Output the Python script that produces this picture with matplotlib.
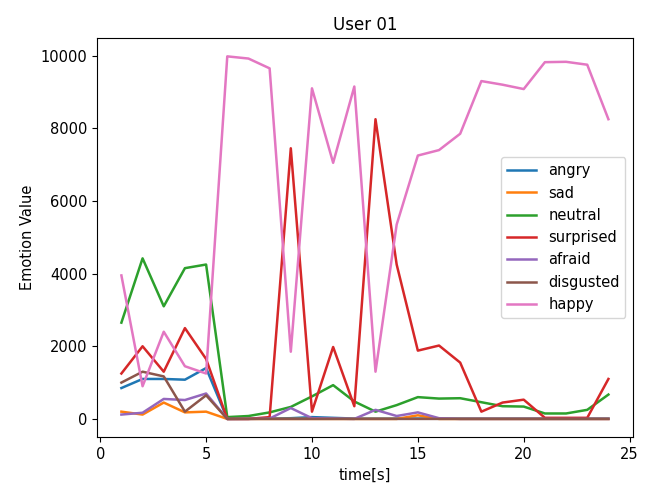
import matplotlib
matplotlib.use("Agg")
import matplotlib.pyplot as plt

t = list(range(1, 25))

angry = [850, 1100, 1100, 1080, 1400, 0, 5, 10, 20, 50, 30, 10, 10, 10, 10, 10, 10, 10, 10, 10, 10, 10, 10, 10]
sad = [200, 120, 450, 180, 200, 0, 0, 0, 0, 0, 0, 0, 0, 0, 100, 0, 0, 0, 0, 0, 0, 0, 0, 0]
neutral = [2650, 4420, 3100, 4150, 4250, 50, 80, 180, 330, 620, 930, 480, 200, 380, 600, 560, 570, 460, 350, 340, 150, 150, 250, 670]
surprised = [1250, 2000, 1300, 2500, 1650, 0, 0, 50, 7450, 200, 1980, 350, 8250, 4250, 1880, 2020, 1550, 200, 450, 530, 30, 30, 30, 1100]
afraid = [120, 170, 550, 520, 700, 0, 0, 10, 300, 20, 10, 0, 250, 80, 180, 20, 0, 0, 0, 0, 0, 0, 0, 0]
disgusted = [1000, 1300, 1170, 200, 650, 0, 0, 0, 0, 0, 0, 0, 0, 0, 0, 0, 0, 0, 0, 0, 0, 0, 0, 0]
happy = [3950, 900, 2400, 1450, 1250, 9980, 9920, 9650, 1850, 9100, 7050, 9150, 1300, 5350, 7250, 7400, 7850, 9300, 9200, 9080, 9820, 9830, 9750, 8250]

series = [("angry", angry), ("sad", sad), ("neutral", neutral), ("surprised", surprised),
          ("afraid", afraid), ("disgusted", disgusted), ("happy", happy)]

plt.rcParams['font.size'] = 10.5

fig, ax = plt.subplots(figsize=(6.47, 4.84), dpi=100)
for name, vals in series:
    ax.plot(t, vals, label=name, linewidth=1.8)

ax.set_title("User 01", fontsize=12)
ax.set_xlabel("time[s]")
ax.set_ylabel("Emotion Value")
ax.set_xticks([0, 5, 10, 15, 20, 25])
ax.legend(loc="center right")
fig.subplots_adjust(left=0.15, right=0.978, top=0.921, bottom=0.097)
fig.savefig("out.png")
